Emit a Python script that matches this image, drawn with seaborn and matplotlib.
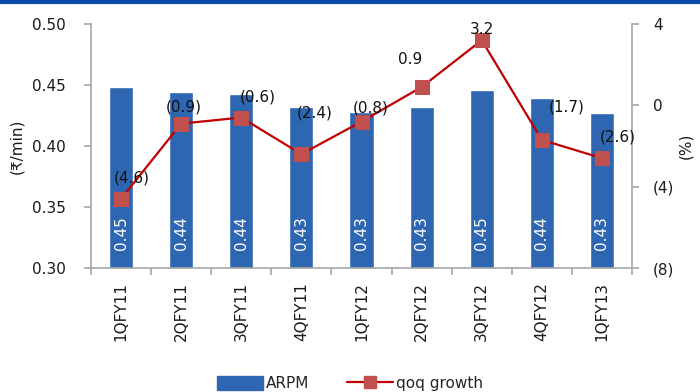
import matplotlib
matplotlib.use("Agg")
import matplotlib.pyplot as plt
import seaborn as sns
import pandas as pd
from matplotlib.lines import Line2D
from matplotlib.patches import Patch

quarters = ["1QFY11", "2QFY11", "3QFY11", "4QFY11", "1QFY12",
            "2QFY12", "3QFY12", "4QFY12", "1QFY13"]
arpm = [0.448, 0.444, 0.443, 0.432, 0.428, 0.432, 0.446, 0.439, 0.427]
qoq_growth = [-4.6, -0.9, -0.6, -2.4, -0.8, 0.9, 3.2, -1.7, -2.6]

left_ticks = [0.30, 0.35, 0.40, 0.45, 0.50]
right_ticks = [-8, -4, 0, 4]
right_tick_labels = ["(8)", "(4)", "0", "4"]

# label offsets (points) for the growth values
growth_label_offsets = [(8, 15), (1.5, 12), (11.5, 15), (9.5, 29.5), (6.5, 10),
                        (-8.5, 19.5), (0, 8), (18, 24), (11.5, 15)]

BAR_BLUE = "#2E66B2"
LINE_RED = "#C00000"
MARKER_RED = "#C0504D"
GREY = "#A6A6A6"
TEXT = "#1a1a1a"

sns.set_theme(style="white")
plt.rcParams["font.family"] = ["DejaVu Sans"]

df = pd.DataFrame({"quarter": quarters, "arpm": arpm, "growth": qoq_growth})

fig = plt.figure(figsize=(7.0, 3.92), dpi=100)
ax = fig.add_axes([0.130, 0.3163, 0.7729, 0.6225])

sns.barplot(data=df, x="quarter", y="arpm", color=BAR_BLUE, width=0.4,
            saturation=1, ax=ax, zorder=2)
ax.set_ylim(0.30, 0.50)
ax.set_xlim(-0.5, len(quarters) - 0.5)
ax.set_yticks(left_ticks)
ax.set_yticklabels([f"{t:.2f}" for t in left_ticks], fontsize=11, color=TEXT)
ax.set_xlabel("")
ax.set_ylabel("(₹/min)", fontsize=11, color=TEXT, labelpad=6)

ax.set_xticks(range(len(quarters)))
ax.set_xticklabels(quarters, rotation=90, fontsize=11, color=TEXT)
ax.set_xticks([i - 0.5 for i in range(len(quarters) + 1)], minor=True)
ax.tick_params(axis="x", which="major", length=0, pad=10)
ax.tick_params(axis="x", which="minor", length=5, width=1.2, color=GREY,
               direction="out", bottom=True)
ax.tick_params(axis="y", length=5, width=1.2, color=GREY, direction="out",
               left=True, pad=13)

for side in ["top", "right"]:
    ax.spines[side].set_visible(False)
for side in ["left", "bottom"]:
    ax.spines[side].set_color(GREY)
    ax.spines[side].set_linewidth(1.2)

for i, v in enumerate(arpm):
    ax.annotate(f"{v:.2f}", xy=(i, 0.30), xytext=(0, 13),
                textcoords="offset points", rotation=90, ha="center",
                va="bottom", color="white", fontsize=11)

ax2 = ax.twinx()
sns.lineplot(data=df, x="quarter", y="growth", color=LINE_RED, linewidth=1.6,
             marker="s", markersize=10, markerfacecolor=MARKER_RED,
             markeredgecolor=MARKER_RED, ax=ax2, zorder=3)
ax2.set_ylim(-8, 4)
ax2.set_yticks(right_ticks)
ax2.set_yticklabels(right_tick_labels, fontsize=11, color=TEXT)
ax2.set_ylabel("(%)", fontsize=11, color=TEXT, labelpad=3)
ax2.tick_params(axis="y", length=5, width=1.2, color=GREY, direction="out",
                right=True, pad=10)
for side in ["top", "left", "bottom"]:
    ax2.spines[side].set_visible(False)
ax2.spines["right"].set_color(GREY)
ax2.spines["right"].set_linewidth(1.2)
ax2.set_xlim(-0.5, len(quarters) - 0.5)

for i, (g, off) in enumerate(zip(qoq_growth, growth_label_offsets)):
    txt = f"({abs(g):.1f})" if g < 0 else f"{g:.1f}"
    ax2.annotate(txt, xy=(i, g), xytext=off, textcoords="offset points",
                 ha="center", va="center", fontsize=11, color="#111111")

handles = [
    Patch(facecolor=BAR_BLUE, edgecolor=BAR_BLUE, label="ARPM"),
    Line2D([0], [0], color=LINE_RED, linewidth=1.6, marker="s", markersize=8,
           markerfacecolor=MARKER_RED, markeredgecolor=MARKER_RED,
           label="qoq growth"),
]
fig.legend(handles=handles, loc="center", bbox_to_anchor=(0.5, 0.022), ncol=2,
           frameon=False, fontsize=11, handlelength=3.0, handleheight=1.0,
           columnspacing=2.5, handletextpad=0.2, borderpad=0.1)

# thin blue rule along the top edge
fig.add_artist(Line2D([0, 1], [0.994, 0.994], transform=fig.transFigure,
                      color="#0A4AA8", linewidth=3))

fig.savefig("out.png", dpi=100)
